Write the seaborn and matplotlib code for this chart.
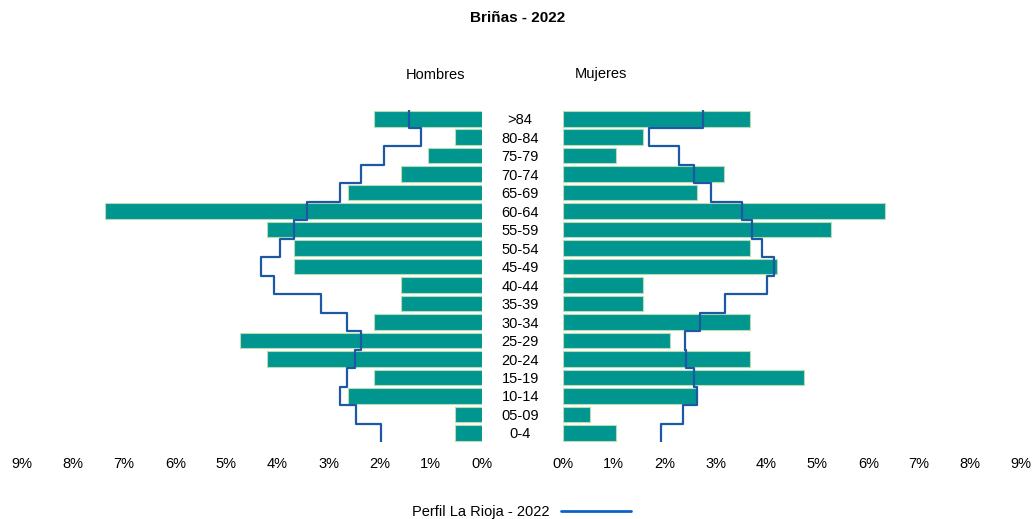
import numpy as np
import pandas as pd
import seaborn as sns
import matplotlib.pyplot as plt
from matplotlib.lines import Line2D

# age groups, top to bottom
ages = [">84", "80-84", "75-79", "70-74", "65-69", "60-64", "55-59", "50-54", "45-49",
        "40-44", "35-39", "30-34", "25-29", "20-24", "15-19", "10-14", "05-09", "0-4"]

# Briñas 2022, % of total population
hombres = [2.11, 0.53, 1.05, 1.58, 2.63, 7.37, 4.21, 3.68, 3.68,
           1.58, 1.58, 2.11, 4.74, 4.21, 2.11, 2.63, 0.53, 0.53]
mujeres = [3.68, 1.58, 1.05, 3.16, 2.63, 6.32, 5.26, 3.68, 4.21,
           1.58, 1.58, 3.68, 2.11, 3.68, 4.74, 2.63, 0.53, 1.05]

# La Rioja 2022 profile, %
rioja_h = [1.43, 1.19, 1.92, 2.37, 2.78, 3.42, 3.68, 3.95, 4.33,
           4.07, 3.15, 2.64, 2.37, 2.49, 2.64, 2.77, 2.47, 1.98]
rioja_m = [2.75, 1.69, 2.28, 2.57, 2.91, 3.51, 3.71, 3.91, 4.14,
           4.01, 3.18, 2.69, 2.39, 2.42, 2.57, 2.63, 2.36, 1.93]

xticks = list(range(0, 10))
xlabels = [f"{t}%" for t in xticks]

bar_color = "#00968f"
edge_color = "#b8dcb4"
line_color = "#1c58a4"

sns.set_style("white")
plt.rcParams["font.family"] = ["Liberation Sans", "DejaVu Sans"]
plt.rcParams["text.color"] = "black"
plt.rcParams["xtick.color"] = "black"
plt.rcParams["ytick.color"] = "black"

df = pd.DataFrame({"edad": ages, "Hombres": hombres, "Mujeres": mujeres,
                   "rh": rioja_h, "rm": rioja_m})

fig = plt.figure(figsize=(10.36, 5.19), dpi=100)
ax_h = fig.add_axes([0.0212, 0.148, 0.4440, 0.641])
ax_m = fig.add_axes([0.5434, 0.148, 0.4421, 0.641])

pos = np.arange(len(ages))
step_y = np.column_stack([pos - 0.5, pos + 0.5]).ravel()

for ax, col, prof in [(ax_h, "Hombres", "rh"), (ax_m, "Mujeres", "rm")]:
    sns.barplot(data=df, x=col, y="edad", orient="h", color=bar_color,
                edgecolor=edge_color, linewidth=0.8, width=0.84,
                saturation=1, ax=ax)
    ax.plot(np.repeat(df[prof].values, 2), step_y, color=line_color, lw=1.6)
    ax.set_ylim(len(ages) - 0.5, -0.5)
    ax.set_xticks(xticks)
    ax.set_xticklabels(xlabels, fontsize=10.5)
    ax.set_xlabel("")
    ax.set_ylabel("")
    ax.tick_params(axis="x", length=0, pad=11)
    sns.despine(ax=ax, left=True, bottom=True)

ax_h.set_xlim(9, 0)
ax_m.set_xlim(0, 9)

# age labels in the middle
ax_h.yaxis.tick_right()
ax_h.tick_params(axis="y", length=0, pad=27.5)
for lbl in ax_h.get_yticklabels():
    lbl.set_horizontalalignment("center")
    lbl.set_verticalalignment("center_baseline")
    lbl.set_fontsize(10.5)
ax_m.set_yticks([])

ax_h.set_title("Hombres", fontsize=10.5, x=0.9, pad=22)
ax_m.set_title("Mujeres", fontsize=10.5, x=0.083, pad=23)

fig.suptitle("Briñas - 2022", fontsize=11, fontweight="bold", y=0.978)

handle = Line2D([], [], color="#0a64c8", lw=2)
fig.legend([handle], ["Perfil La Rioja - 2022"], loc="lower center",
           bbox_to_anchor=(0.503, -0.025), frameon=False, markerfirst=False,
           handlelength=4.8, fontsize=10.5)

fig.savefig("out.png", dpi=100)
